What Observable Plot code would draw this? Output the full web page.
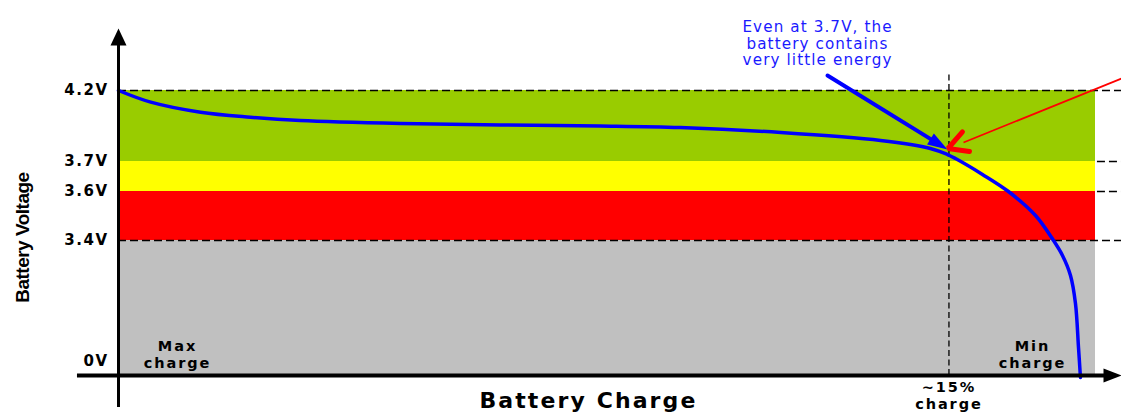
<!DOCTYPE html>
<html><head><meta charset="utf-8">
<script src="https://cdn.jsdelivr.net/npm/d3@7"></script>
<script src="https://cdn.jsdelivr.net/npm/@observablehq/plot@0.6"></script>
<style>
body{margin:0;background:#fff}
svg{display:block}
g[font-size="15"] text{letter-spacing:1.5px}
g[font-size="14.5"] text{letter-spacing:1.9px}
g[font-size="15.2"] text{letter-spacing:1.1px}
g[font-size="22"] text{letter-spacing:2.1px}
g[font-size="19"] text{letter-spacing:-0.5px}
</style>
</head><body><div id="chart"></div>
<script>
// Discharge curve: state of charge (%) vs voltage (V)
const charge  = [100, 96.7, 91.6, 86.5, 81.4, 71.1, 60.9, 50.7, 42.5, 32.2, 22.0, 16.9, 15.15, 14.33, 11.57, 8.91, 6.14, 4.30, 3.38, 2.56, 2.05, 1.74, 1.54];
const voltage = [4.2, 4.118, 4.047, 4.012, 3.989, 3.968, 3.957, 3.950, 3.939, 3.904, 3.848, 3.792, 3.749, 3.721, 3.657, 3.600, 3.502, 3.400, 3.022, 2.519, 1.813, 0.705, -0.05];

// Voltage bands
const bandLow   = [0, 3.4, 3.6, 3.7];
const bandHigh  = [3.4, 3.6, 3.7, 4.2];
const bandColor = ["#c0c0c0", "#ff0000", "#ffff00", "#99cc00"];

// Tick labels
const tickValues = [4.2, 3.7, 3.6, 3.4];
const tickLabels = ["4.2V", "3.7V", "3.6V", "3.4V"];
const zeroLabel = "0V";

// Reference lines
const fullDashed = [4.2, 3.4];
const shortDashed = [3.7, 3.6];
const markerCharge = 15;

// Annotation texts
const noteText = "Even at 3.7V, the\nbattery contains\nvery little energy";
const maxText = "Max\ncharge";
const minText = "Min\ncharge";
const pctText = "~15%\ncharge";
const xTitle = "Battery Charge";
const yTitle = "Battery Voltage";

// Non-uniform voltage axis (piecewise): voltage -> display units
const vy = d3.scaleLinear().domain([-0.8, 0, 3.4, 3.6, 3.7, 4.2, 4.7]).range([0, 32, 167, 216, 246, 317, 379]);

const curve = charge.map((c, i) => ({c, v: voltage[i]}));
const bands = bandLow.map((lo, i) => ({lo, hi: bandHigh[i], color: bandColor[i]}));
const ticks = tickValues.map((v, i) => ({v, label: tickLabels[i]}));

function arrowHead(angleDeg, len, half) {
  const a = angleDeg * Math.PI / 180, c = Math.cos(a), s = Math.sin(a);
  const pt = (u, w) => [u * c - w * s, u * s + w * c];
  return {draw(ctx) {
    const p1 = pt(-len, -half), p2 = pt(-len, half);
    ctx.moveTo(0, 0); ctx.lineTo(p1[0], p1[1]); ctx.lineTo(p2[0], p2[1]); ctx.closePath();
  }};
}

const txt = {fontFamily: "DejaVu Sans", fill: "#000"};

const plot = Plot.plot({
  width: 1121, height: 413,
  marginLeft: 118, marginRight: 26, marginTop: 28, marginBottom: 6,
  x: {domain: [100, 0], axis: null},
  y: {domain: [0, 379], axis: null},
  color: {type: "identity"},
  style: {background: "#fff", overflow: "visible"},
  marks: [
    Plot.rect(bands, {x1: () => 100, x2: () => 0, y1: d => vy(d.lo), y2: d => vy(d.hi), fill: "color"}),
    Plot.ruleY(fullDashed, {y: d => vy(d), x1: () => 100, x2: () => -2.66, stroke: "#000", strokeWidth: 1.5, strokeDasharray: "8,4"}),
    Plot.ruleY(shortDashed, {y: d => vy(d), x1: () => -0.2, x2: () => -2.66, stroke: "#000", strokeWidth: 1.5, strokeDasharray: "8,4"}),
    Plot.ruleX([markerCharge], {y1: () => vy(0), y2: () => vy(4.33), stroke: "#000", strokeWidth: 1.3, strokeDasharray: "6,3.5"}),
    Plot.line(curve, {x: "c", y: d => vy(d.v), stroke: "#0000ff", strokeWidth: 3.5, curve: "catmull-rom"}),
    // axes
    Plot.ruleX([100], {y1: () => vy(-0.8), y2: () => vy(4.6), stroke: "#000", strokeWidth: 3}),
    Plot.ruleY([0], {y: d => vy(d), x1: () => 104.2, x2: () => -1.5, stroke: "#000", strokeWidth: 4}),
    Plot.dot([{x: 100, y: 4.7}], {x: "x", y: d => vy(d.y), symbol: arrowHead(-90, 17, 8), fill: "#000", stroke: "none"}),
    Plot.dot([{x: -2.66, y: 0}], {x: "x", y: d => vy(d.y), symbol: arrowHead(0, 18, 7), fill: "#000", stroke: "none"}),
    // blue annotation arrow
    Plot.arrow([{x1: 27.43, y1: 4.321, x2: 15.15, y2: 3.785}], {x1: "x1", y1: d => vy(d.y1), x2: "x2", y2: d => vy(d.y2), stroke: "#0000ff", strokeWidth: 4, headLength: 0, insetEnd: 12}),
    Plot.dot([{x: 15.15, y: 3.785}], {x: "x", y: d => vy(d.y), symbol: arrowHead(31.7, 20, 6.5), fill: "#0000ff", stroke: "none"}),
    // red arrow
    Plot.link([{x1: -2.66, y1: 4.297, x2: 13.51, y2: 3.834}], {x1: "x1", y1: d => vy(d.y1), x2: "x2", y2: d => vy(d.y2), stroke: "#ff0000", strokeWidth: 1.8}),
    Plot.line([{x: 13.62, y: 3.909}, {x: 15.1, y: 3.7915}, {x: 12.9, y: 3.771}], {x: "x", y: d => vy(d.y), stroke: "#ff0000", strokeWidth: 5, strokeLinejoin: "miter"}),
    // tick labels
    Plot.text(ticks, {x: () => 100, y: d => vy(d.v), text: "label", textAnchor: "end", dx: -10, fontSize: 15, fontWeight: "bold", ...txt}),
    Plot.text([zeroLabel], {x: () => 100, y: () => vy(0), text: d => d, textAnchor: "end", dx: -10, dy: -14, fontSize: 15, fontWeight: "bold", ...txt}),
    // annotations
    Plot.text([noteText], {x: () => 28.45, y: () => vy(4.579), text: d => d, fontSize: 15.2, lineHeight: 1.09, fontFamily: "DejaVu Sans", fill: "#1a1aff"}),
    Plot.text([maxText], {x: () => 93.96, y: () => vy(0.541), text: d => d, fontSize: 14.5, lineHeight: 1.17, fontWeight: "bold", ...txt}),
    Plot.text([minText], {x: () => 6.45, y: () => vy(0.541), text: d => d, fontSize: 14.5, lineHeight: 1.17, fontWeight: "bold", ...txt}),
    Plot.text([pctText], {x: () => 15, y: () => vy(-0.491), text: d => d, fontSize: 14.5, lineHeight: 1.17, fontWeight: "bold", ...txt}),
    Plot.text([xTitle], {x: () => 51.9, y: () => vy(-0.63), text: d => d, fontSize: 22, fontWeight: "bold", ...txt}),
    Plot.text([yTitle], {x: () => 109.8, y: () => vy(3.412), text: d => d, rotate: -90, fontSize: 19, fontWeight: "bold", fontFamily: "Liberation Sans", fill: "#000"})
  ]
});
document.getElementById("chart").appendChild(plot);
</script>
</body></html>
